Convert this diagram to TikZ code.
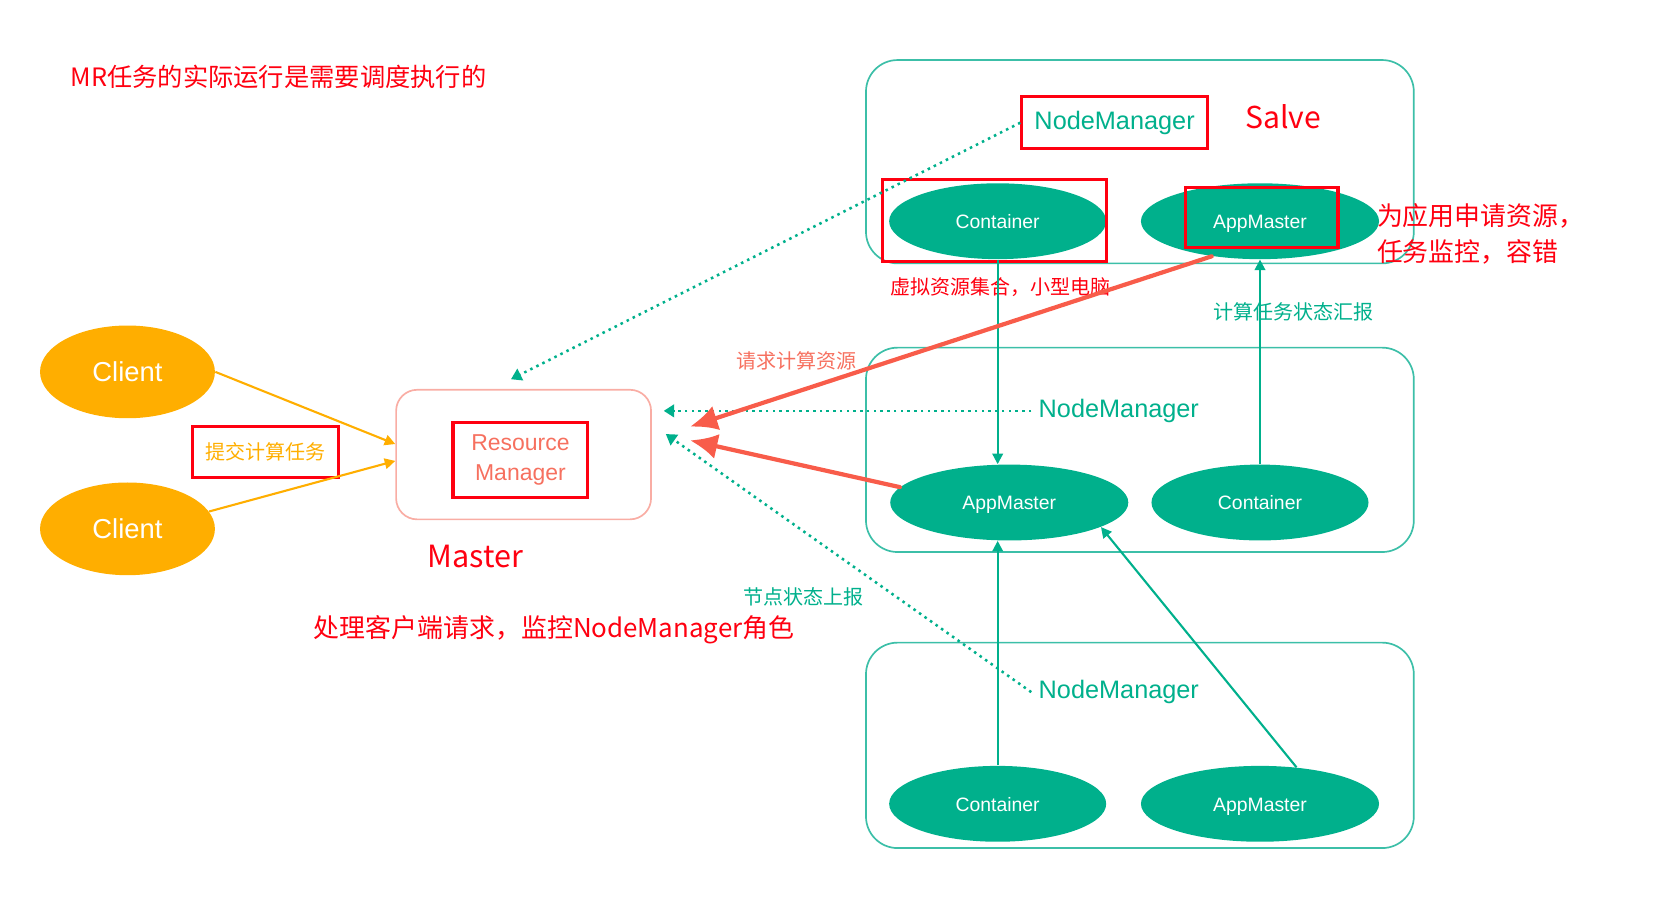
\documentclass[tikz,border=0pt]{standalone}
\usepackage{fontspec}
\setmainfont{Liberation Sans}
\newfontfamily\cjk{Noto Sans CJK SC}
\usetikzlibrary{shapes.geometric,arrows.meta}

\definecolor{nmteal}{HTML}{00B08C}
\definecolor{boxteal}{HTML}{3CBFA8}
\definecolor{clientorange}{HTML}{FFAE00}
\definecolor{markred}{HTML}{FF0010}
\definecolor{rmsalmon}{HTML}{F6705F}
\definecolor{masteredge}{HTML}{F9ADA4}
\definecolor{reqred}{HTML}{F85C4A}

\tikzset{
	yarnbox/.style={draw=boxteal, line width=0.8pt, rounded corners=15pt},
	cont/.style={ellipse, fill=nmteal, text=white, inner sep=0pt,
		text height=1.6ex, text depth=0.3ex,
		minimum width=103pt, minimum height=36pt, font=\fontsize{9.2}{11}\selectfont},
	appm/.style={cont, minimum width=113pt},
	client/.style={ellipse, fill=clientorange, text=white, inner sep=0pt,
		minimum width=83pt, minimum height=44pt, font=\fontsize{13}{15}\selectfont},
	markbox/.style={draw=markred, line width=1.5pt},
	nmtext/.style={text=nmteal, font=\fontsize{12}{14}\selectfont},
	tealnote/.style={text=nmteal, font=\cjk\fontsize{9.5}{11}\selectfont},
	rednote/.style={text=markred, font=\cjk\fontsize{12.3}{17}\selectfont},
	report/.style={draw=nmteal, dotted, line width=1.2pt, -{Triangle[length=5pt,width=6pt]}},
	flow/.style={draw=nmteal, line width=1pt, -{Triangle[length=5pt,width=5pt]}},
	submit/.style={draw=clientorange, line width=1pt, -{Triangle[length=5pt,width=5pt]}},
	request/.style={draw=reqred, line width=2pt, line cap=round, -{Latex[length=13pt,width=12pt]}}
}

\begin{document}
\begin{tikzpicture}[x=0.5pt,y=-0.5pt]
\useasboundingbox (0,0) rectangle (1570,854);

\node[rednote, anchor=west, font=\cjk\fontsize{12}{14}\selectfont] (title) at (60,73) {MR任务的实际运行是需要调度执行的};

% slave machines
\draw[yarnbox] (822,57) rectangle (1342,250);
\draw[yarnbox] (822,330) rectangle (1342,524);
\draw[yarnbox] (822,610) rectangle (1342,805);

\node[nmtext, markbox, minimum width=88pt, minimum height=24.5pt] (nm1) at (1058,116.5) {NodeManager};
\node[text=markred, font=\cjk\fontsize{14.3}{16}\selectfont] (salve) at (1218,111) {Salve};
\node[cont] (c1) at (947,210) {Container};
\node[appm] (am1) at (1196,210) {AppMaster};
\draw[markbox] (838,170) rectangle (1050,248);
\draw[markbox] (1125,178) rectangle (1270,235);
\node[rednote, anchor=west, align=left] (amnote) at (1300,222) {为应用申请资源，\\任务监控，容错};
\node[text=markred, font=\cjk\fontsize{9.5}{11}\selectfont] (cnote) at (950,273) {虚拟资源集合，小型电脑};

\node[nmtext] (nm2) at (1062,390) {NodeManager};
\node[appm] (am2) at (958,477) {AppMaster};
\node[cont] (c2) at (1196,477) {Container};

\node[nmtext] (nm3) at (1062,657) {NodeManager};
\node[cont] (c3) at (947,763) {Container};
\node[appm] (am3) at (1196,763) {AppMaster};

% master
\node[draw=masteredge, line width=0.8pt, rounded corners=10pt,
	minimum width=121pt, minimum height=61.5pt] (master) at (497,431.5) {};
\node[markbox, text=rmsalmon, align=center, minimum width=64pt, minimum height=35.5pt,
	font=\fontsize{10.9}{14}\selectfont] (rm) at (494,436.5) {Resource\\Manager};
\node[text=markred, font=\cjk\fontsize{14.5}{16}\selectfont] (mlabel) at (451,528) {Master};
\node[rednote] (mnote) at (526,598) {处理客户端请求，监控NodeManager角色};

% clients
\node[client] (cl1) at (121,353) {Client};
\node[client] (cl2) at (121,502) {Client};
\node[markbox, text=clientorange, font=\cjk\fontsize{9.5}{11}\selectfont,
	minimum width=69pt, minimum height=24pt] (submitnote) at (252,429) {提交计算任务};
\draw[submit] (cl1.east) -- ([yshift=5pt]master.west);
\draw[submit] (cl2.12) -- ([yshift=-3pt]master.west);

% heartbeats
\coordinate (rmtop) at (485,360);
\coordinate (rmright1) at (630,390);
\coordinate (rmright2) at (632,412);
\draw[report] (nm1.west) -- (rmtop);
\draw[report] (nm2.west) -- (rmright1);
\draw[report] (nm3.west) -- (rmright2);
\node[tealnote] (hbnote) at (763,567) {节点状态上报};

% containers and app masters
\draw[flow] (c1.south) -- (c1.south |- am2.north);
\draw[flow] (c2.north) -- (am1.south);
\node[tealnote] (stnote) at (1228,296) {计算任务状态汇报};
\draw[flow] (c3.north) -- (c3.north |- am2.south);
\draw[flow] (am3.45) -- (am2.-15);

% resource requests
\coordinate (req1) at (655,405);
\coordinate (req2) at (655,418);
\draw[request] (am1.-144) -- (req1);
\draw[request] (am2.172) -- (req2);
\node[text=rmsalmon, font=\cjk\fontsize{9.5}{11}\selectfont] (reqnote) at (756,343) {请求计算资源};
\end{tikzpicture}
\end{document}
